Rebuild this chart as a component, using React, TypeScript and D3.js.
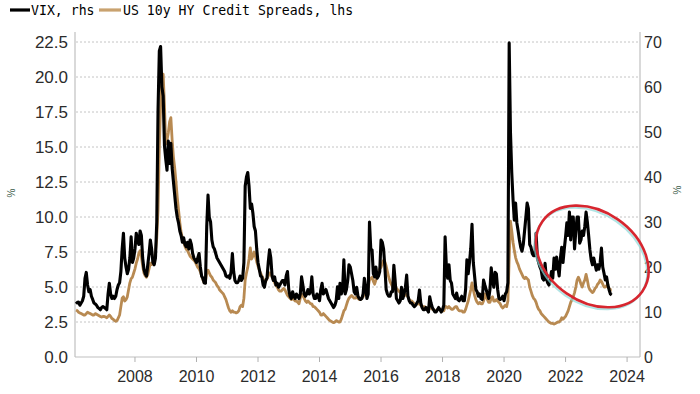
import * as d3 from 'd3';

// semi-monthly observations, first one = first half of Feb 2006
const startYear = 2006 + 2 / 24;

// VIX (rhs), one row per year
const vix: number[][] = [
  [12.3, 12.0, 12.2, 11.5, 12.0, 12.5, 13.5, 17.5, 18.8, 16.0, 14.5, 15.0, 13.5, 12.8, 12.0, 11.8, 11.5, 11.0, 10.8, 10.5, 11.0, 11.2],
  [11.0, 10.8, 10.5, 14.0, 16.4, 14.0, 13.0, 13.5, 13.0, 13.5, 15.0, 16.0, 16.5, 19.0, 24.0, 27.5, 22.0, 20.0, 18.5, 19.5, 22.0, 26.7, 21.0, 22.0],
  [24.0, 27.5, 26.0, 25.0, 28.0, 27.0, 22.0, 19.5, 18.5, 18.0, 20.5, 23.0, 26.0, 24.0, 21.0, 20.5, 22.0, 30.0, 55.0, 68.0, 69.0, 60.0, 58.0, 47.0],
  [44.0, 41.5, 48.0, 43.0, 47.5, 42.0, 39.0, 36.0, 33.0, 31.0, 29.8, 28.0, 27.0, 25.5, 26.5, 25.0, 24.5, 25.5, 24.0, 26.0, 25.0, 23.0, 22.0, 21.5],
  [21.0, 22.0, 23.0, 20.0, 18.0, 17.5, 16.5, 16.4, 29.0, 36.0, 31.0, 30.0, 26.0, 24.5, 24.0, 23.0, 22.0, 21.5, 21.0, 20.5, 20.0, 19.5, 19.0, 18.0],
  [17.8, 18.0, 17.5, 19.0, 23.0, 19.0, 17.0, 16.5, 16.5, 17.0, 18.0, 17.0, 17.5, 21.0, 38.0, 40.0, 41.0, 38.0, 33.0, 34.0, 32.0, 29.0, 28.0, 24.0],
  [21.0, 19.5, 18.0, 17.8, 16.0, 15.5, 17.0, 17.5, 21.0, 23.8, 22.0, 18.0, 17.0, 17.8, 16.0, 16.4, 15.5, 16.0, 16.5, 17.0, 17.0, 16.0, 18.0, 19.0],
  [15.0, 13.5, 13.0, 14.5, 13.5, 13.0, 14.0, 13.5, 13.0, 14.0, 17.8, 16.0, 14.0, 13.5, 14.0, 15.0, 14.0, 14.5, 17.8, 14.0, 13.0, 13.0, 14.0, 13.5],
  [12.5, 15.0, 16.4, 14.0, 14.5, 15.0, 14.0, 13.0, 12.5, 12.0, 11.5, 11.0, 11.5, 12.5, 15.6, 13.0, 16.4, 14.0, 15.0, 21.6, 14.0, 15.0, 17.0, 20.5],
  [20.0, 18.5, 17.0, 14.5, 14.0, 15.5, 13.5, 13.0, 12.8, 13.0, 14.0, 17.5, 15.5, 13.0, 14.0, 30.0, 24.0, 23.8, 18.5, 17.8, 20.0, 17.5, 18.0, 19.0],
  [26.0, 25.5, 24.0, 20.0, 15.0, 14.0, 13.5, 13.5, 14.5, 14.5, 20.4, 17.0, 13.0, 12.5, 12.0, 12.5, 15.5, 13.0, 14.0, 15.5, 18.2, 13.5, 12.5, 12.0],
  [12.0, 11.5, 11.2, 11.5, 12.0, 12.5, 14.9, 12.0, 11.0, 10.5, 10.5, 11.0, 10.5, 10.0, 13.4, 12.0, 11.0, 10.5, 10.0, 10.0, 10.5, 11.0, 10.5, 10.0],
  [10.5, 11.5, 26.7, 20.0, 17.5, 20.5, 17.0, 16.4, 14.0, 13.5, 13.0, 14.2, 12.7, 12.5, 13.0, 13.5, 12.5, 12.5, 15.0, 21.6, 18.5, 21.0, 24.0, 29.5],
  [21.0, 18.0, 15.0, 14.5, 13.5, 14.0, 13.0, 12.8, 17.1, 16.0, 15.0, 14.0, 13.0, 15.0, 19.8, 17.0, 15.5, 18.8, 18.5, 15.0, 13.0, 12.8, 13.0, 13.5],
  [12.5, 14.0, 14.5, 16.5, 69.8, 50.0, 41.0, 35.0, 30.4, 34.2, 29.8, 28.0, 26.0, 24.4, 23.5, 25.0, 28.0, 31.0, 34.2, 33.0, 25.0, 24.4, 23.0, 22.5],
  [22.5, 27.5, 22.0, 21.0, 20.0, 19.3, 17.5, 17.1, 20.8, 17.5, 16.5, 16.0, 17.0, 19.0, 17.5, 22.0, 19.5, 22.2, 20.0, 18.0, 22.0, 24.4, 21.0, 24.0],
  [26.7, 29.8, 27.0, 32.2, 26.0, 31.1, 31.1, 24.0, 28.0, 31.1, 31.1, 25.3, 26.0, 28.0, 27.0, 29.0, 32.2, 30.0, 27.0, 23.8, 21.6, 20.5, 22.0, 20.5],
  [19.3, 20.5, 19.5, 21.0, 24.2, 20.0, 18.6, 17.1, 17.8, 16.0, 14.9, 14.0, 13.8],
];

// US 10y HY credit spreads (lhs, %), one row per year
const hySpread: number[][] = [
  [3.35, 3.3, 3.2, 3.15, 3.1, 3.05, 3.0, 3.0, 3.1, 3.2, 3.15, 3.1, 3.05, 3.0, 3.0, 3.1, 3.05, 3.0, 2.95, 2.9, 2.85, 2.9],
  [2.9, 2.85, 2.8, 2.9, 3.0, 2.9, 2.75, 2.7, 2.6, 2.55, 2.6, 2.8, 3.0, 3.6, 4.2, 4.3, 4.0, 4.1, 4.3, 4.8, 5.3, 5.6, 5.7, 6.0],
  [6.3, 6.7, 7.0, 7.4, 7.6, 7.2, 6.5, 6.0, 5.8, 5.7, 5.9, 6.3, 6.7, 6.6, 6.8, 7.0, 7.5, 8.5, 10.5, 15.0, 18.0, 19.8, 20.2, 18.0],
  [15.2, 15.5, 16.0, 16.8, 17.1, 15.5, 14.3, 13.5, 12.5, 11.4, 10.5, 9.6, 8.9, 8.5, 8.2, 7.9, 7.7, 7.6, 7.4, 7.2, 7.1, 7.0, 6.9, 6.8],
  [6.6, 6.4, 6.3, 6.1, 5.8, 5.5, 5.3, 5.4, 6.0, 6.2, 6.0, 5.8, 5.7, 5.5, 5.4, 5.3, 5.1, 5.0, 4.8, 4.7, 4.6, 4.5, 4.3, 4.1],
  [3.8, 3.5, 3.3, 3.2, 3.3, 3.2, 3.2, 3.15, 3.2, 3.3, 3.6, 3.7, 3.6, 4.2, 5.5, 6.0, 6.4, 7.0, 7.8, 7.0, 7.2, 7.5, 7.2, 6.8],
  [6.5, 6.2, 6.0, 5.8, 5.6, 5.3, 5.4, 5.6, 5.8, 6.0, 6.0, 5.7, 5.5, 5.3, 5.1, 5.0, 4.8, 4.7, 4.7, 4.8, 4.9, 4.8, 4.6, 4.4],
  [4.3, 4.2, 4.1, 4.2, 4.1, 4.0, 4.0, 3.9, 3.8, 4.2, 4.5, 4.4, 4.2, 4.0, 3.9, 4.0, 3.9, 3.8, 3.8, 3.6, 3.6, 3.5, 3.4, 3.3],
  [3.2, 3.0, 3.0, 3.1, 3.0, 2.9, 2.8, 2.7, 2.6, 2.55, 2.5, 2.45, 2.5, 2.6, 2.55, 2.5, 2.5, 2.7, 3.0, 3.3, 3.4, 3.7, 4.0, 4.2],
  [4.3, 4.4, 4.3, 4.2, 4.2, 4.3, 4.2, 4.1, 4.1, 4.2, 4.3, 4.5, 4.7, 4.8, 5.0, 5.5, 5.6, 5.7, 5.4, 5.2, 5.5, 5.8, 6.0, 6.3],
  [6.4, 6.7, 6.9, 6.8, 6.5, 6.1, 5.7, 5.4, 5.2, 5.0, 5.0, 5.1, 4.9, 4.8, 4.7, 4.6, 4.6, 4.5, 4.4, 4.4, 4.5, 4.3, 4.1, 4.0],
  [4.0, 3.9, 3.8, 3.7, 3.8, 3.8, 3.8, 3.7, 3.6, 3.6, 3.6, 3.5, 3.5, 3.4, 3.5, 3.5, 3.4, 3.4, 3.3, 3.3, 3.4, 3.4, 3.4, 3.3],
  [3.3, 3.3, 3.6, 3.6, 3.5, 3.6, 3.5, 3.4, 3.4, 3.5, 3.6, 3.6, 3.4, 3.3, 3.3, 3.3, 3.2, 3.2, 3.4, 3.7, 4.0, 4.4, 4.8, 5.3],
  [4.8, 4.4, 4.1, 3.9, 3.8, 3.9, 3.8, 3.8, 4.0, 4.5, 4.3, 4.1, 3.9, 3.9, 4.2, 4.3, 4.0, 4.0, 4.1, 4.0, 3.9, 3.8, 3.6, 3.5],
  [3.6, 3.7, 3.6, 4.0, 7.0, 9.7, 9.0, 8.2, 7.6, 7.1, 6.8, 6.6, 6.3, 6.1, 5.9, 5.7, 5.6, 5.7, 5.6, 5.5, 5.0, 4.7, 4.4, 4.2],
  [4.1, 3.9, 3.6, 3.4, 3.3, 3.1, 3.0, 2.9, 2.8, 2.7, 2.6, 2.5, 2.45, 2.4, 2.4, 2.35, 2.4, 2.45, 2.5, 2.5, 2.6, 2.8, 2.7, 2.8],
  [2.9, 3.1, 3.3, 3.6, 3.9, 4.1, 4.3, 4.6, 5.0, 5.5, 5.7, 5.5, 5.2, 5.0, 5.3, 5.5, 5.9, 5.5, 5.0, 4.8, 4.7, 4.6, 4.7, 4.9],
  [5.0, 5.2, 5.3, 5.5, 5.4, 5.2, 5.0, 5.0, 5.1, 5.0, 4.9, 4.8, 4.8],
];

const leftTicks = [0, 2.5, 5, 7.5, 10, 12.5, 15, 17.5, 20, 22.5];
const rightTicks = [0, 10, 20, 30, 40, 50, 60, 70];
const yearTicks = [2008, 2010, 2012, 2014, 2016, 2018, 2020, 2022, 2024];
const legendLabels = ['VIX, rhs', 'US 10y HY Credit Spreads, lhs'];

const W = 700;
const H = 394;
const BLACK = '#000000';
const TAN = '#b88a52';

type Pt = { t: number; v: number };

const toPoints = (rows: number[][]): Pt[] =>
  rows.flat().map((v, i) => ({ t: startYear + i / 24, v }));

export default function App() {
  const x = d3.scaleLinear().domain([2006.05, 2024.42]).range([75, 640]);
  const yLeft = d3.scaleLinear().domain([0, 22.5]).range([357, 42]);
  const yRight = d3.scaleLinear().domain([0, 70]).range([357, 42]);

  const vixLine = d3.line<Pt>().x((d) => x(d.t)).y((d) => yRight(d.v));
  const hyLine = d3.line<Pt>().x((d) => x(d.t)).y((d) => yLeft(d.v));

  const vixPts = toPoints(vix);
  const hyPts = toPoints(hySpread);

  // annotation ellipse around 2021-2023
  const cx = x(2022.87);
  const cy = yLeft(7.18);

  const axisFont = '"Liberation Sans", Arial, sans-serif';

  return (
    <svg
      width={W}
      height={H}
      style={{ position: 'absolute', left: 0, top: 0, background: '#fff' }}
    >
      {/* legend */}
      <g fontFamily='"DejaVu Sans Mono", monospace' fontSize={13.2} fill="#000">
        <line x1={10} x2={30} y1={10} y2={10} stroke={BLACK} strokeWidth={3.2} />
        <text x={31} y={15}>{legendLabels[0]}</text>
        <line x1={99} x2={121} y1={10} y2={10} stroke="#c9a26f" strokeWidth={3.2} />
        <text x={123} y={15}>{legendLabels[1]}</text>
      </g>

      {/* grid */}
      {leftTicks.slice(1).map((t) => (
        <line
          key={t}
          x1={76}
          x2={639}
          y1={yLeft(t)}
          y2={yLeft(t)}
          stroke="#c4c4c4"
          strokeWidth={1}
          strokeDasharray="2,2"
        />
      ))}

      {/* axes frame */}
      <line x1={75} x2={75} y1={32} y2={357} stroke="#c0c0c0" strokeWidth={1.2} />
      <line x1={640} x2={640} y1={32} y2={357} stroke="#c0c0c0" strokeWidth={1.2} />
      <line x1={75} x2={640} y1={357} y2={357} stroke="#c0c0c0" strokeWidth={1.2} />
      {yearTicks.map((yr) => (
        <line key={yr} x1={x(yr)} x2={x(yr)} y1={357} y2={362} stroke="#b0b0b0" />
      ))}

      {/* tick labels */}
      <g fontFamily={axisFont} fontSize={17} fill="#2b2b2b" textAnchor="end">
        {leftTicks.map((t) => (
          <text key={t} x={68} y={yLeft(t) + 6}>{t.toFixed(1)}</text>
        ))}
      </g>
      <g fontFamily={axisFont} fontSize={16} fill="#2b2b2b">
        {rightTicks.map((t) => (
          <text key={t} x={644} y={yRight(t) + 6}>{t}</text>
        ))}
      </g>
      <g fontFamily={axisFont} fontSize={16} fill="#2b2b2b" textAnchor="middle">
        {yearTicks.map((yr) => (
          <text key={yr} x={x(yr)} y={382}>{yr}</text>
        ))}
      </g>
      <text
        transform="translate(15,193) rotate(-90)"
        fontFamily={axisFont}
        fontSize={10}
        fill="#3f5f4f"
        textAnchor="middle"
      >
        %
      </text>
      <text
        transform="translate(681,190) rotate(-90)"
        fontFamily={axisFont}
        fontSize={10}
        fill="#3f5f4f"
        textAnchor="middle"
      >
        %
      </text>

      {/* series */}
      <path
        d={hyLine(hyPts) ?? ''}
        fill="none"
        stroke={TAN}
        strokeWidth={2.8}
        strokeLinejoin="round"
      />
      <path
        d={vixLine(vixPts) ?? ''}
        fill="none"
        stroke={BLACK}
        strokeWidth={3.1}
        strokeLinejoin="round"
      />

      {/* hand-drawn circle */}
      <ellipse
        cx={cx - 1.5}
        cy={cy + 2}
        rx={61}
        ry={45}
        transform={`rotate(35 ${cx - 1.5} ${cy + 2})`}
        fill="none"
        stroke="#8fd8d8"
        strokeWidth={2}
        opacity={0.7}
      />
      <ellipse
        cx={cx}
        cy={cy}
        rx={61}
        ry={45}
        transform={`rotate(35 ${cx} ${cy})`}
        fill="none"
        stroke="#d7262f"
        strokeWidth={2.6}
      />
    </svg>
  );
}
